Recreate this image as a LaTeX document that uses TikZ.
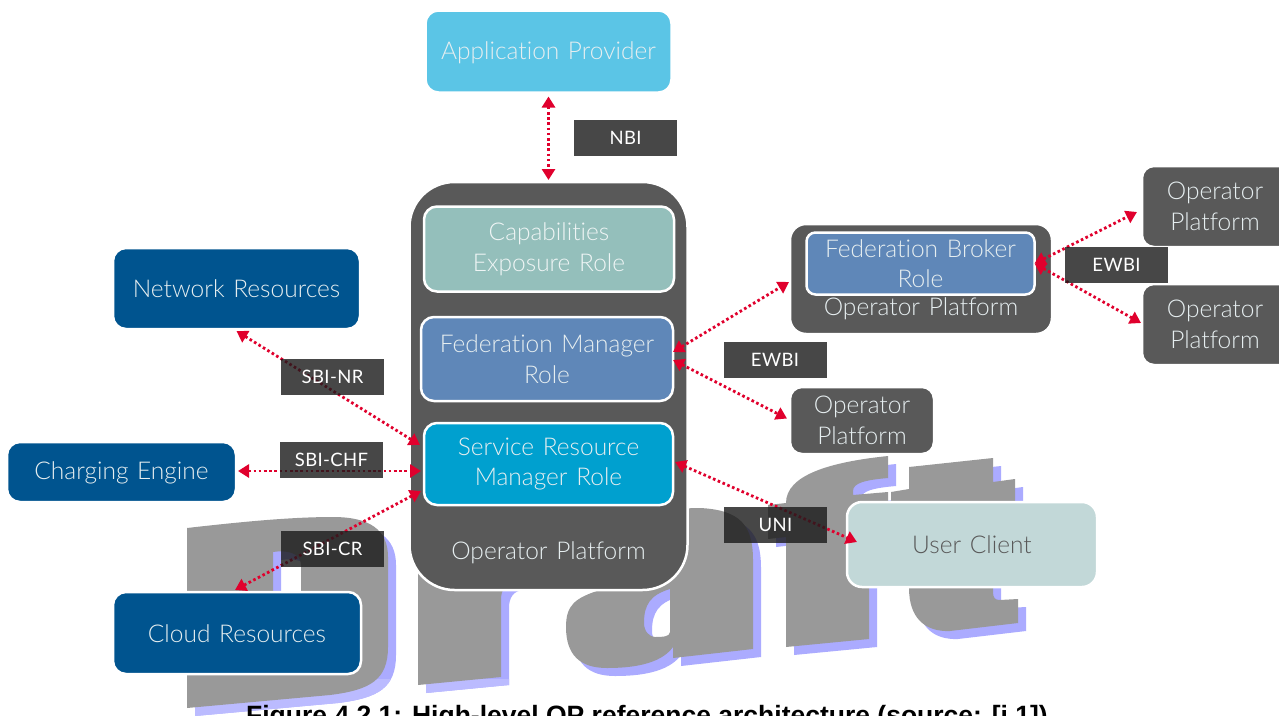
\documentclass[tikz,border=0pt]{standalone}
\usepackage{fontspec}
\setmainfont{Lato}[UprightFont=* Light,LetterSpace=0,Ligatures=NoCommon,WordSpace=1.3]
\newfontfamily\lblfont{Lato}[Ligatures=NoCommon,LetterSpace=2]
\newfontfamily\capfont{Liberation Sans}[BoldFont=* Bold]
\usetikzlibrary{arrows.meta}
\definecolor{wgrey}{HTML}{999999}
\definecolor{wshadow}{HTML}{ABABFF}
\definecolor{wshadowb}{HTML}{BBBBFF}
\definecolor{darkplat}{HTML}{595959}
\definecolor{provcol}{HTML}{5BC5E6}
\definecolor{capcol}{HTML}{94BFBB}
\definecolor{fedcol}{HTML}{5F87B8}
\definecolor{srmcol}{HTML}{00A0CF}
\definecolor{rescol}{HTML}{00548F}
\definecolor{ucol}{HTML}{C2D8D8}
\definecolor{txtlight}{HTML}{E6EEF0}
\definecolor{redarrow}{HTML}{E0002D}
\definecolor{lblcol}{HTML}{1A1A1A}
\tikzset{
  box/.style={rounded corners=#1,draw=white,line width=2.5pt,inner sep=0pt,outer sep=0pt,align=center,
    font=\fontsize{24.5}{30.5}\selectfont,text=txtlight},
  box/.default=13pt,
  toph/.style={execute at begin node={\rule{0pt}{#1pt}}},
  plain/.style={font=\fontsize{24.5}{30.5}\selectfont,text=txtlight,inner sep=0pt},
  link/.style={draw=redarrow,line width=2.8pt,dash pattern=on 2.6pt off 2.6pt,
    {Triangle[length=11pt,width=13pt]}-{Triangle[length=11pt,width=13pt]}},
  lbl/.style={fill=lblcol,fill opacity=.8,text opacity=1,text=white,inner sep=0pt,outer sep=0pt,
    minimum width=103pt,minimum height=36pt,font=\lblfont\fontsize{18.5}{23}\selectfont},
}
\newcommand{\letterDfull}{(187,528) .. controls (240,522) and (290,517) .. (333,517)
  .. controls (370,517) and (388,530) .. (388,557) -- (388,647)
  .. controls (388,680) and (370,690) .. (330,695) -- (187,708) -- cycle
  (273,552) .. controls (285,550) and (301,552) .. (301,565) -- (301,662) -- (273,664) -- cycle}
\newcommand{\letterR}{(418,500) -- (418,685) -- (501,677) -- (501,600) .. controls (501,590) and (505,583) .. (515,582) -- (600,575) -- (600,500) -- cycle}
\newcommand{\letterA}{(566,627) .. controls (566,605) and (575,598) .. (600,590) -- (620,510) -- (700,508)
  .. controls (740,510) and (753,525) .. (753,560) -- (753,649) -- (673,658) -- (673,647)
  .. controls (660,665) and (630,668) .. (607,668) .. controls (580,668) and (566,655) .. (566,627) -- cycle
  (670,589) .. controls (650,595) and (644,605) .. (644,623) .. controls (644,632) and (650,637) .. (655,637) .. controls (662,637) and (670,637) .. (670,632) -- cycle}
\newcommand{\letterF}{(786,647) -- (786,537) -- (768,539) -- (768,505) -- (786,503)
  .. controls (786,475) and (830,462) .. (888,456) -- (888,478) .. controls (865,480) and (853,483) .. (853,491)
  -- (853,495) -- (888,492) -- (888,520) -- (869,522) -- (869,639) -- cycle}
\newcommand{\letterT}{(909,467) -- (993,458) -- (993,482) -- (1015,479) -- (1015,515) -- (993,518) -- (993,592)
  .. controls (993,598) and (995,600) .. (1000,600) -- (1018,599) -- (1018,623) -- (950,631)
  .. controls (925,632) and (909,618) .. (909,588) -- (909,510) -- (891,512) -- (891,492) -- (909,489) -- cycle}
\begin{document}
\begin{tikzpicture}[x=1pt,y=-1pt]
\useasboundingbox (0,0) rectangle (1279,715);
\clip (0,0) rectangle (1279,715);
\fill[white] (0,0) rectangle (1279,715);
% watermark
\begin{scope}[shift={(8,8)}]
  \fill[wshadow,even odd rule] \letterDfull;
  \fill[wshadow] \letterR;
  \fill[wshadow,even odd rule] \letterA;
  \fill[wshadow] \letterF;
  \fill[wshadow] \letterT;
\end{scope}
\begin{scope}
  \clip (150,679) rectangle (530,715);
  \begin{scope}[shift={(8,8)}]
    \fill[wshadowb] \letterDfull;
    \fill[wshadowb] \letterR;
  \end{scope}
\end{scope}
\fill[wgrey,even odd rule] \letterDfull;
\fill[wgrey] \letterR;
\fill[wgrey,even odd rule] \letterA;
\fill[wgrey] \letterF;
\fill[wgrey] \letterT;
% nodes
\node[box,toph=21,fill=provcol,minimum width=246pt,minimum height=82pt] (prov) at (548.5,51.5) {Application Provider};
\node[box=45pt,fill=darkplat,minimum width=278pt,minimum height=408pt] (plat) at (548.5,386) {};
\node[box,toph=28,fill=capcol,minimum width=250pt,minimum height=85pt,text=white!85!capcol] (capb) at (549,249) {Capabilities\\Exposure Role};
\node[box,toph=24,fill=fedcol,minimum width=252pt,minimum height=84pt] (fed) at (547,359) {Federation Manager\\Role};
\node[box,toph=28,fill=srmcol,minimum width=249pt,minimum height=82pt] (srm) at (548.5,464) {Service Resource\\Manager Role};
\node[plain] (platlbl) at (548.5,553) {Operator Platform};
\node[box,toph=19,fill=rescol,minimum width=247pt,minimum height=81pt] (net) at (236.5,288.5) {Network Resources};
\node[box,toph=20,fill=rescol,minimum width=229pt,minimum height=60pt] (chg) at (121.5,472) {Charging Engine};
\node[box,toph=19,fill=rescol,minimum width=248pt,minimum height=82pt] (cld) at (237,633) {Cloud Resources};
\node[box=16pt,fill=darkplat,minimum width=262pt,minimum height=110pt] (bplat) at (921,279) {};
\node[box=9pt,toph=23,fill=fedcol,minimum width=228pt,minimum height=62pt] (broker) at (920.5,263.5) {Federation Broker\\Role};
\node[plain] (bplatlbl) at (921,309) {Operator Platform};
\node[box=12pt,toph=22,fill=darkplat,minimum width=152pt,minimum height=81pt] (op1) at (1218,206.5) {\hspace*{-6pt}Operator\\\hspace*{-6pt}Platform};
\node[box=12pt,toph=22,fill=darkplat,minimum width=152pt,minimum height=81pt] (op2) at (1218,324.5) {\hspace*{-6pt}Operator\\\hspace*{-6pt}Platform};
\node[box=12pt,toph=22,fill=darkplat,minimum width=144pt,minimum height=67pt] (op3) at (862,420.5) {Operator\\Platform};
\node[box=15pt,toph=19,fill=ucol,minimum width=250pt,minimum height=85pt,text=darkplat] (user) at (972,544.5) {User Client};
% connectors
\draw[link] ([shift={(0,4)}]prov.south) -- ([shift={(0,-2)}]plat.north);
\draw[link] ([shift={(0,2)}]net.south) -- ([shift={(-4,-19)}]srm.west);
\draw[link] ([shift={(2,-1)}]chg.east) -- ([shift={(-3,7)}]srm.west);
\draw[link] ([shift={(-2,-2)}]cld.north) -- ([shift={(-3,27)}]srm.west);
\draw[link] ([shift={(0,-7)}]fed.east) -- ([shift={(-1,3)}]bplat.west);
\draw[link] ([shift={(0,1)}]fed.east) -- ([shift={(-3,-2)}]op3.west);
\draw[link] ([shift={(2,-2)}]srm.east) -- ([shift={(10,-2.5)}]user.west);
\draw[link] (broker.east) -- ([shift={(-5,5.5)}]op1.west);
\draw[link] (broker.east) -- ([shift={(-1,-1.5)}]op2.west);
% labels
\node[lbl] (nbi) at (625.5,137.5) {NBI};
\node[lbl] (sbinr) at (332.5,376.5) {SBI-NR};
\node[lbl] (sbichf) at (331.5,459.5) {SBI-CHF};
\node[lbl] (sbicr) at (332.5,548.5) {SBI-CR};
\node[lbl] (uni) at (775.5,525) {UNI};
\node[lbl] (ewbia) at (775,360) {EWBI};
\node[lbl] (ewbib) at (1116.5,265) {EWBI};
% caption
\node[font=\capfont\bfseries\fontsize{26.5}{30}\selectfont,text=black,inner sep=0pt] (caption) at (647,718) {Figure 4.2.1: High-level OP reference architecture (source: [i.1])};
\end{tikzpicture}
\end{document}
